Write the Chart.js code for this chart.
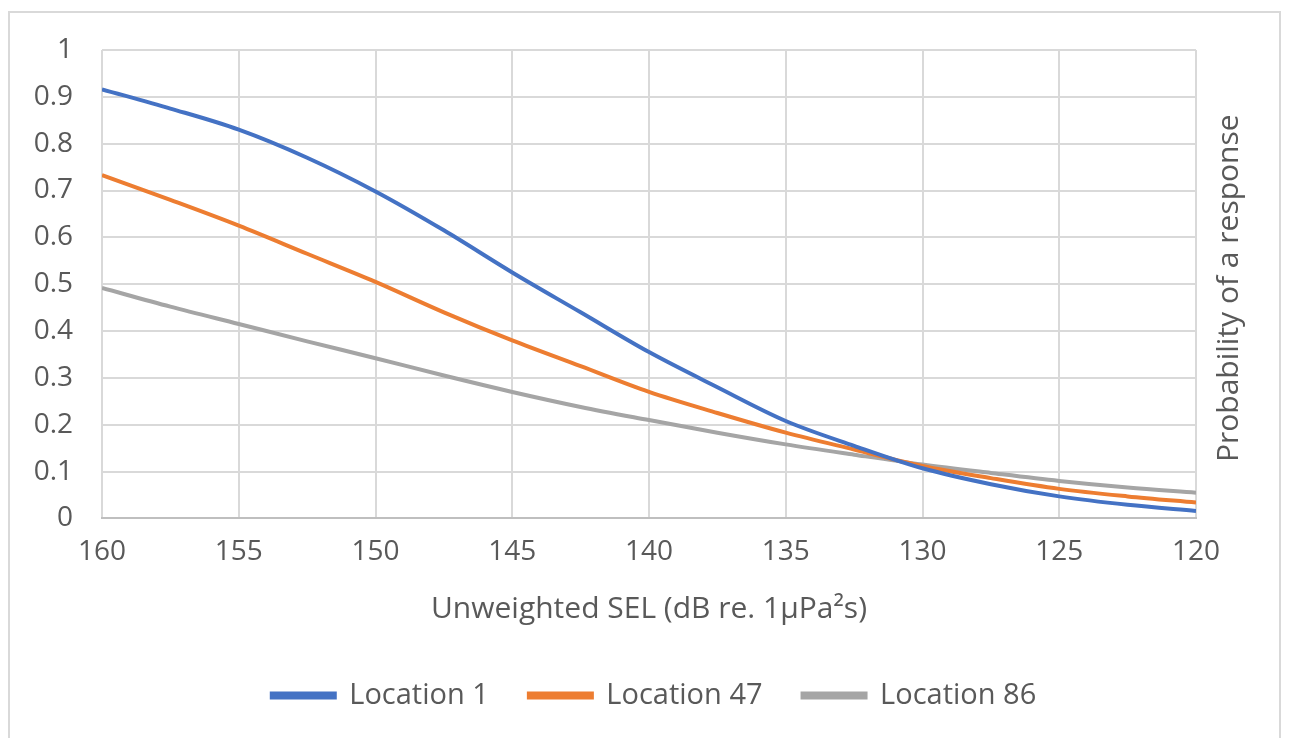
<!DOCTYPE html>
<html>
<head>
<meta charset="utf-8">
<script src="https://cdn.jsdelivr.net/npm/chart.js@4"></script>
<style>
  body { margin: 0; background: #fff; }
  #frame {
    position: absolute; left: 8px; top: 11px;
    width: 1273px; height: 740px;
    border: 2px solid #d9d9d9;
    box-sizing: border-box;
  }
  #wrap { position: absolute; left: 0; top: 0; right: 0; bottom: 0; }
</style>
</head>
<body>
<div id="frame"><div id="wrap"><canvas id="chart"></canvas></div></div>
<script>
// SEL values (dB), every 2.5 dB
const sel = [160, 157.5, 155, 152.5, 150, 147.5, 145, 142.5, 140, 137.5, 135, 132.5, 130, 127.5, 125, 122.5, 120];
const location1 = [0.916, 0.875, 0.83, 0.77, 0.698, 0.615, 0.525, 0.44, 0.355, 0.28, 0.208, 0.155, 0.107, 0.073, 0.047, 0.029, 0.016];
const location47 = [0.733, 0.68, 0.625, 0.565, 0.505, 0.44, 0.38, 0.325, 0.27, 0.225, 0.183, 0.147, 0.112, 0.086, 0.063, 0.047, 0.034];
const location86 = [0.492, 0.452, 0.415, 0.378, 0.342, 0.305, 0.27, 0.238, 0.21, 0.183, 0.158, 0.136, 0.115, 0.097, 0.08, 0.066, 0.055];

const toPoints = vals => vals.map((v, i) => ({ x: sel[i], y: v }));
const textColor = '#595959';
const tickFont = { family: 'Open Sans', size: 28 };
const titleFont = { family: 'Open Sans', size: 30 };
const legendFont = { family: 'Open Sans', size: 29 };

function series(label, vals, color) {
    return {
        label: label,
        data: toPoints(vals),
        borderColor: color,
        backgroundColor: color,
        borderWidth: 4,
        pointRadius: 0,
        cubicInterpolationMode: 'monotone'
    };
}

// y title sits on the right and reads bottom to top
const rightTitle = {
    id: 'rightTitle',
    afterDraw(chart) {
        const { ctx, chartArea } = chart;
        ctx.save();
        ctx.translate(chartArea.right + 33, (chartArea.top + chartArea.bottom) / 2 + 4);
        ctx.rotate(-Math.PI / 2);
        ctx.fillStyle = textColor;
        ctx.font = titleFont.size + 'px "' + titleFont.family + '"';
        ctx.textAlign = 'center';
        ctx.textBaseline = 'middle';
        ctx.fillText('Probability of a response', 0, 0);
        ctx.restore();
    }
};

new Chart(document.getElementById('chart').getContext('2d'), {
    type: 'line',
    data: {
        datasets: [
            series('Location 1', location1, '#4472c4'),
            series('Location 47', location47, '#ed7d31'),
            series('Location 86', location86, '#a5a5a5')
        ]
    },
    options: {
        responsive: true,
        maintainAspectRatio: false,
        animation: false,
        layout: { padding: { left: 19, right: 0, top: 37, bottom: 29 } },
        scales: {
            x: {
                type: 'linear',
                reverse: true,
                min: 120,
                max: 160,
                ticks: { stepSize: 5, color: textColor, font: tickFont, padding: 17 },
                grid: { color: '#d9d9d9', lineWidth: 2, drawTicks: false },
                border: { color: '#bfbfbf', width: 2 },
                title: {
                    display: true,
                    text: 'Unweighted SEL (dB re. 1µPa²s)',
                    color: textColor,
                    font: titleFont,
                    padding: { top: 5, bottom: 14 }
                }
            },
            y: {
                min: 0,
                max: 1,
                afterFit(scale) { scale.width = 73; },
                ticks: {
                    stepSize: 0.1,
                    color: textColor,
                    font: tickFont,
                    padding: 0,
                    callback: v => String(+v.toFixed(1))
                },
                // invisible tick marks give the gap between labels and plot
                grid: { color: '#d9d9d9', lineWidth: 2, drawTicks: true, tickLength: 29, tickColor: 'rgba(0,0,0,0)' },
                border: { display: false }
            },
            // empty right axis keeps room for the title drawn by rightTitle
            y2: {
                position: 'right',
                min: 0,
                max: 1,
                afterFit(scale) { scale.width = 83; },
                ticks: { display: false },
                grid: { display: false, drawTicks: false },
                border: { display: false }
            }
        },
        plugins: {
            legend: {
                position: 'bottom',
                labels: {
                    color: textColor,
                    font: legendFont,
                    boxWidth: 63,
                    boxHeight: 4,
                    padding: 40
                }
            },
            tooltip: { enabled: false }
        }
    },
    plugins: [rightTitle]
});
</script>
</body>
</html>
